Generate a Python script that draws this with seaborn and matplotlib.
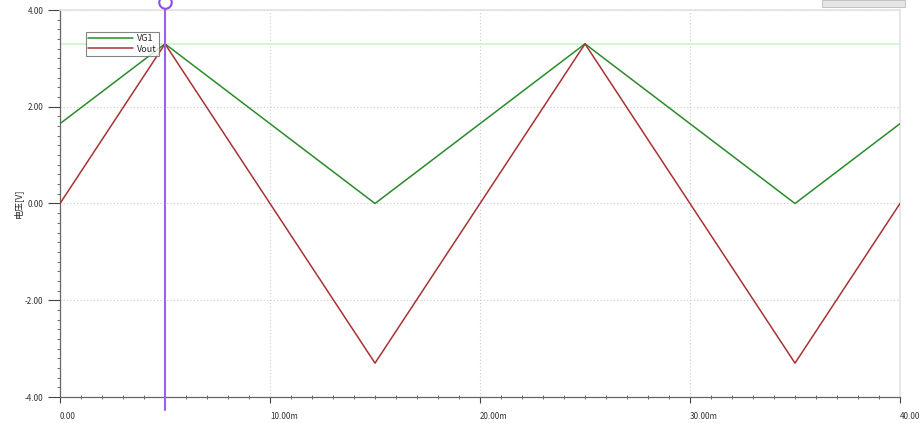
import matplotlib
matplotlib.use("Agg")
import matplotlib.pyplot as plt
import seaborn as sns
import pandas as pd
from matplotlib.ticker import MultipleLocator, FixedLocator
from matplotlib.patches import Rectangle
import matplotlib.transforms as mtransforms

# dados (tempo em ms, tensões em V)
t_ms = [0, 5, 15, 25, 35, 40]
vg1 = [1.65, 3.3, 0.0, 3.3, 0.0, 1.65]
vout = [0.0, 3.3, -3.3, 3.3, -3.3, 0.0]
cursor_ms = 5
level_v = 3.3
x_ticks = [0, 10, 20, 30, 40]
x_labels = ['0.00', '10.00m', '20.00m', '30.00m', '40.00']
y_ticks = [-4, -2, 0, 2, 4]
y_labels = ['-4.00', '-2.00', '0.00', '2.00', '4.00']

df = pd.DataFrame({'t': t_ms * 2,
                   'v': vg1 + vout,
                   'serie': ['VG1'] * len(t_ms) + ['Vout'] * len(t_ms)})

sns.set_style('white')
plt.rcParams['font.family'] = ['Noto Sans CJK SC', 'DejaVu Sans']

fig = plt.figure(figsize=(9.24, 4.23), dpi=100)
ax = fig.add_axes([60 / 924, 1 - 397 / 423, 840 / 924, 387 / 423])

ax.axhline(level_v, color='#c8f5c8', lw=1.2, zorder=1)
sns.lineplot(data=df, x='t', y='v', hue='serie',
             palette={'VG1': '#2a8a2a', 'Vout': '#a83232'},
             lw=1.1, ax=ax, zorder=3)
ax.axvline(cursor_ms, ymin=0, ymax=1.0, color='#9a5ef0', lw=1.5, zorder=4)
ax.plot([cursor_ms, cursor_ms], [-4, -4.27], color='#9a5ef0', lw=1.5, clip_on=False, zorder=4)
ax.plot([cursor_ms, cursor_ms], [4, 4.2], color='#9a5ef0', lw=1.5, clip_on=False, zorder=4)
ax.plot([cursor_ms], [4.16], marker='o', ms=9, mfc='white', mec='#8a50e8', mew=1.5,
        clip_on=False, zorder=5)

ax.set_xlim(0, 40)
ax.set_ylim(-4, 4)
ax.xaxis.set_major_locator(FixedLocator(x_ticks))
ax.xaxis.set_minor_locator(MultipleLocator(1))
ax.yaxis.set_major_locator(FixedLocator(y_ticks))
ax.yaxis.set_minor_locator(MultipleLocator(0.2))
ax.set_xticklabels(x_labels, fontsize=5.8, style='italic', color='#333333', ha='left')
ax.set_yticklabels(y_labels, fontsize=5.8, style='italic', color='#333333')
offset = mtransforms.ScaledTranslation(-4 / 100, 0, fig.dpi_scale_trans)
for lab in ax.get_xticklabels():
    lab.set_transform(lab.get_transform() + offset)

ax.tick_params(bottom=True, left=True, which='both')
ax.tick_params(axis='y', which='major', direction='out', length=9, width=0.8,
               color='#444444', pad=3)
ax.tick_params(axis='y', which='minor', direction='out', length=2.5, width=0.6,
               color='#555555')
ax.tick_params(axis='x', which='major', direction='out', length=4.5, width=0.8,
               color='#444444', pad=6)
ax.tick_params(axis='x', which='minor', direction='inout', length=3, width=0.6,
               color='#555555')
ax.grid(True, which='major', ls=(0, (1, 2)), color='#cccccc', lw=0.8)

for s in ['left', 'bottom']:
    ax.spines[s].set_color('#666666')
    ax.spines[s].set_linewidth(0.9)
for s in ['top', 'right']:
    ax.spines[s].set_color('#e2e2e2')
    ax.spines[s].set_linewidth(1.2)

ax.set_xlabel('')
ax.set_ylabel('电压[V]', fontsize=6.5, labelpad=1)

leg = ax.legend(loc='upper left', bbox_to_anchor=(0.025, 0.955), fontsize=6.5,
                frameon=True, fancybox=False, edgecolor='#666666', handlelength=5.0,
                borderpad=0.25, labelspacing=0.15, handletextpad=0.5)
leg.get_frame().set_linewidth(0.8)

# barrinha cinza no topo direito
fig.patches.append(Rectangle((822 / 924, 1 - 7 / 423), 83 / 924, 7 / 423,
                             transform=fig.transFigure, facecolor='#e6e6e6',
                             edgecolor='#bbbbbb', lw=0.6))

fig.savefig('out.png', dpi=100)
